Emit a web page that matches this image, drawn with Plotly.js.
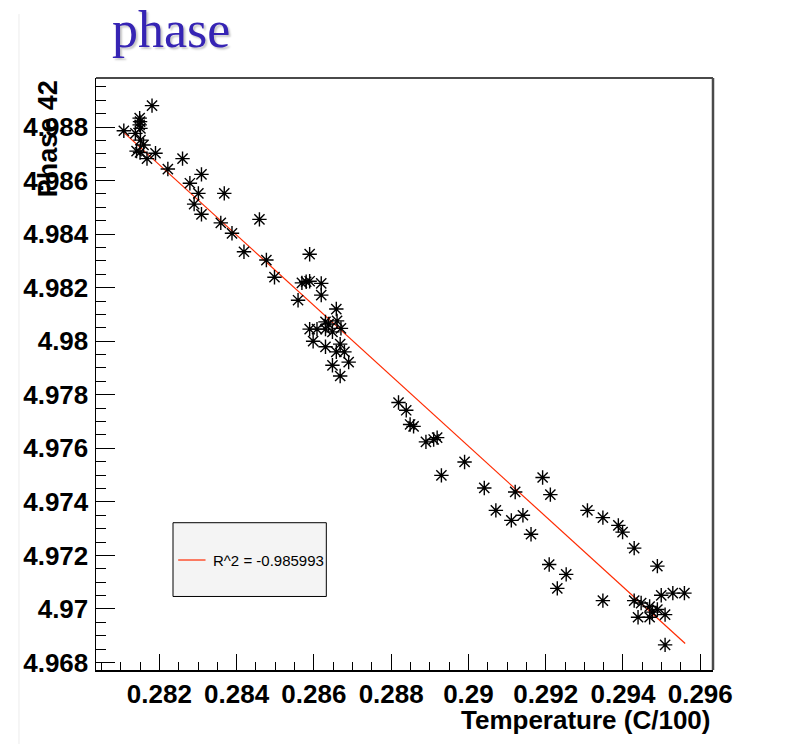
<!DOCTYPE html>
<html>
<head>
<meta charset="utf-8">
<script src="https://cdn.plot.ly/plotly-3.0.1.min.js"></script>
<style>
  html, body { margin: 0; padding: 0; background: #ffffff; }
  #chart { width: 789px; height: 744px; }
</style>
</head>
<body>
<div id="chart"></div>
<script>
// Measured temperature (C/100) and phase of channel 42
const temperature = [
  0.28108, 0.28181, 0.28149, 0.28150, 0.28149, 0.28151, 0.28138, 0.28151, 0.28159, 0.28141,
  0.28150, 0.28168, 0.28190, 0.28222, 0.28260, 0.28309, 0.28279, 0.28301, 0.28290, 0.28309,
  0.28368, 0.28359, 0.28388, 0.28419, 0.28459, 0.28477, 0.28498, 0.28559, 0.28569, 0.28580,
  0.28589, 0.28589, 0.28619, 0.28619, 0.28658, 0.28630, 0.28638, 0.28660, 0.28589, 0.28608,
  0.28630, 0.28648, 0.28670, 0.28598, 0.28630, 0.28668, 0.28658, 0.28679, 0.28690, 0.28648,
  0.28668, 0.28819, 0.28839, 0.28849, 0.28858, 0.28890, 0.28910, 0.28919, 0.28990, 0.28930,
  0.29041, 0.29121, 0.29192, 0.29212, 0.29071, 0.29111, 0.29141, 0.29162, 0.29209, 0.29230,
  0.29253, 0.29308, 0.29348, 0.29388, 0.29399, 0.29429, 0.29489, 0.29348, 0.29429, 0.29447,
  0.29469, 0.29489, 0.29476, 0.29499, 0.29529, 0.29559, 0.29439, 0.29469, 0.29509, 0.29509
];
const phase = [
  4.98786, 4.98880, 4.98833, 4.98820, 4.98808, 4.98795, 4.98776, 4.98751, 4.98733, 4.98710,
  4.98705, 4.98682, 4.98702, 4.98643, 4.98682, 4.98623, 4.98590, 4.98552, 4.98512, 4.98474,
  4.98552, 4.98442, 4.98403, 4.98334, 4.98455, 4.98303, 4.98239, 4.98153, 4.98218, 4.98222,
  4.98224, 4.98325, 4.98216, 4.98172, 4.98120, 4.98072, 4.98064, 4.98076, 4.98045, 4.98045,
  4.98045, 4.98035, 4.98048, 4.98000, 4.97979, 4.97989, 4.97960, 4.97960, 4.97922, 4.97910,
  4.97870, 4.97771, 4.97742, 4.97689, 4.97682, 4.97624, 4.97633, 4.97640, 4.97549, 4.97499,
  4.97452, 4.97437, 4.97491, 4.97427, 4.97368, 4.97331, 4.97350, 4.97279, 4.97166, 4.97077,
  4.97129, 4.97368, 4.97341, 4.97312, 4.97287, 4.97227, 4.97160, 4.97031, 4.97031, 4.97022,
  4.97009, 4.96998, 4.96988, 4.97051, 4.97059, 4.97059, 4.96969, 4.96969, 4.96979, 4.96866
];

// Linear fit, evaluated at the ends of the temperature range
const fitX = [0.28107, 0.29561];
const fitY = [4.98781, 4.96871];
const fitLabel = 'R^2 = -0.985993';

// Axis tick labels
const xTickVals = [0.282, 0.284, 0.286, 0.288, 0.290, 0.292, 0.294, 0.296];
const xTickText = ['0.282', '0.284', '0.286', '0.288', '0.29', '0.292', '0.294', '0.296'];
const yTickVals = [4.968, 4.970, 4.972, 4.974, 4.976, 4.978, 4.980, 4.982, 4.984, 4.986, 4.988];
const yTickText = ['4.968', '4.97', '4.972', '4.974', '4.976', '4.978', '4.98', '4.982', '4.984', '4.986', '4.988'];

const sans = 'Liberation Sans, Arial, Helvetica, sans-serif';

const traces = [
  {
    type: 'scatter',
    mode: 'lines',
    x: fitX,
    y: fitY,
    line: { color: '#ff2a00', width: 1.2 },
    name: fitLabel,
    showlegend: false,
    hoverinfo: 'skip'
  },
  {
    type: 'scatter',
    mode: 'markers',
    x: temperature,
    y: phase,
    marker: {
      symbol: 'asterisk-open',
      size: 12,
      color: '#000000',
      line: { color: '#000000', width: 1.4 }
    },
    showlegend: false
  }
];

const layout = {
  width: 789,
  height: 744,
  margin: { l: 96, r: 76, t: 78, b: 74 },
  paper_bgcolor: '#ffffff',
  plot_bgcolor: '#ffffff',
  showlegend: false,
  title: {
    text: 'phase',
    font: { family: 'Liberation Serif, Times New Roman, serif', size: 52, color: '#3624b4',
            shadow: '2px 2px 2px #c8c8c8' },
    xref: 'container', yref: 'container',
    x: 112 / 789, xanchor: 'left',
    y: 1 - 11 / 744, yanchor: 'top'
  },
  xaxis: {
    range: [0.28036, 0.29633],
    tickmode: 'array',
    tickvals: xTickVals,
    ticktext: xTickText,
    ticks: 'inside',
    ticklen: 16,
    tickwidth: 1,
    tickcolor: '#000000',
    minor: { tickmode: 'linear', tick0: 0.282, dtick: 0.0005, ticks: 'inside', ticklen: 8, tickwidth: 1, tickcolor: '#000000' },
    showline: true,
    linecolor: '#000000',
    linewidth: 1.5,
    showgrid: false,
    zeroline: false,
    tickfont: { family: sans, size: 26, weight: 'bold', color: '#000000' }
  },
  yaxis: {
    range: [4.96772, 4.98983],
    tickmode: 'array',
    tickvals: yTickVals,
    ticktext: yTickText,
    ticks: 'inside',
    ticklen: 19,
    tickwidth: 1,
    tickcolor: '#000000',
    minor: { tickmode: 'linear', tick0: 4.968, dtick: 0.0005, ticks: 'inside', ticklen: 10, tickwidth: 1, tickcolor: '#000000' },
    showline: true,
    linecolor: '#000000',
    linewidth: 1.5,
    showgrid: false,
    zeroline: false,
    ticklabelstandoff: 1,
    tickfont: { family: sans, size: 26, weight: 'bold', color: '#000000' }
  },
  shapes: [
    // frame top and right edges
    { type: 'line', xref: 'paper', yref: 'paper', x0: 0, x1: 1, y0: 1, y1: 1,
      line: { color: '#4a4a4a', width: 2 } },
    { type: 'line', xref: 'paper', yref: 'paper', x0: 1, x1: 1, y0: 0, y1: 1,
      line: { color: '#4a4a4a', width: 2.5 } },
    // faint page edge on the left
    { type: 'line', xref: 'paper', yref: 'paper', x0: -0.1248, x1: -0.1248, y0: 1.108, y1: -0.13,
      line: { color: '#ececec', width: 1 } },
    // fit legend box
    { type: 'rect', xref: 'paper', yref: 'paper', x0: 0.1248, x1: 0.3733, y0: 0.1242, y1: 0.2488,
      fillcolor: '#f4f4f4', line: { color: '#000000', width: 1 }, layer: 'above' },
    { type: 'line', xref: 'paper', yref: 'paper', x0: 0.1332, x1: 0.1775, y0: 0.1858, y1: 0.1858,
      line: { color: '#ff2a00', width: 1.2 }, layer: 'above' }
  ],
  annotations: [
    {
      text: 'Phase 42',
      textangle: -90,
      xref: 'paper', yref: 'paper',
      x: -0.078, xanchor: 'center',
      y: 1.0, yanchor: 'top',
      showarrow: false,
      font: { family: sans, size: 27, weight: 'bold', color: '#000000' }
    },
    {
      text: 'Temperature (C/100)',
      xref: 'paper', yref: 'paper',
      x: 1.0, xanchor: 'right',
      y: -0.084, yanchor: 'middle',
      showarrow: false,
      font: { family: sans, size: 26, weight: 'bold', color: '#000000' }
    },
    {
      text: fitLabel,
      xref: 'paper', yref: 'paper',
      x: 0.1864, xanchor: 'left',
      y: 0.1858, yanchor: 'middle',
      showarrow: false,
      font: { family: sans, size: 15, color: '#000000' }
    }
  ]
};

Plotly.newPlot('chart', traces, layout, { displayModeBar: false, staticPlot: true });
</script>
</body>
</html>
